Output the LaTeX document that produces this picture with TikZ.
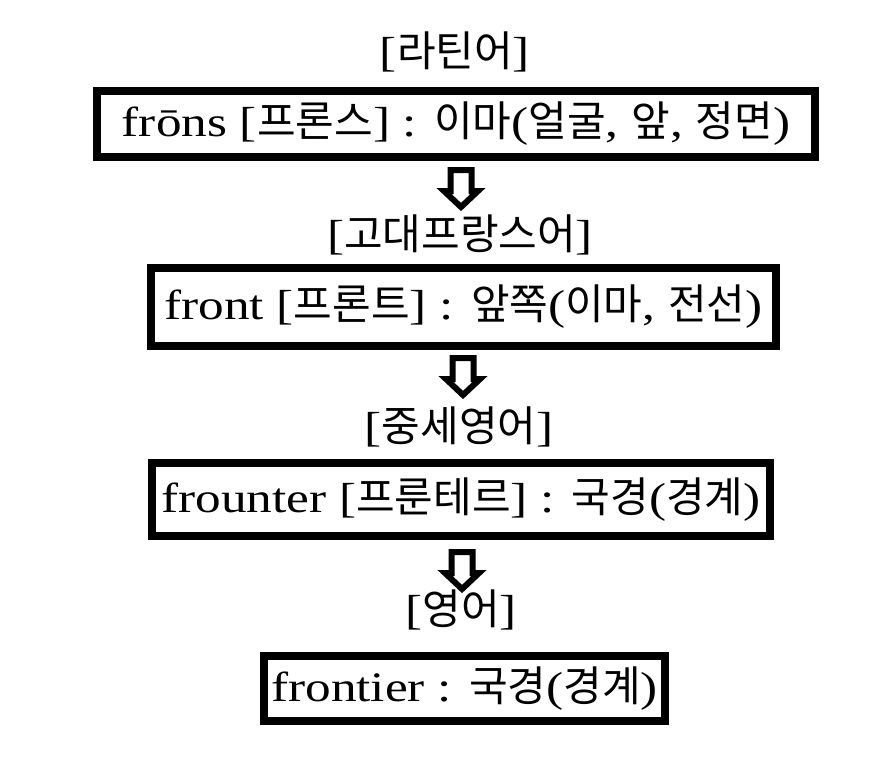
\documentclass[tikz,border=0pt]{standalone}
\usepackage{fontspec}
\setmainfont{Liberation Serif}[FakeStretch=1.22]
\newfontfamily\krfont{Noto Sans CJK KR}
\newcommand{\K}[1]{{\krfont\fontsize{42pt}{48pt}\selectfont #1}}
\newcommand{\bigtext}{\fontsize{42pt}{48pt}\selectfont}
\begin{document}
\begin{tikzpicture}[x=1pt,y=-1pt]
\tikzset{
  wordbox/.style={draw=black, line width=8pt, inner sep=0pt, fill=white, font=\bigtext},
  langlabel/.style={inner sep=0pt, anchor=base, font=\bigtext},
  blockarrow/.style={draw=black, line width=6pt, fill=white, line join=miter, miter limit=10}
}
\fill[white] (0,0) rectangle (896,774);
\useasboundingbox (0,0) rectangle (896,774);

% language labels
\node[langlabel] (l1) at (455,66) {[\K{라틴어}]};
\node[langlabel] (l2) at (460,249) {[\K{고대프랑스어}]};
\node[langlabel] (l3) at (459,441) {[\K{중세영어}]};
\node[langlabel] (l4) at (461,624) {[\K{영어}]};

% word boxes
\node[wordbox, minimum width=718pt, minimum height=66pt] (b1) at (456,124)
  {frōns [\K{프론스}] : \K{이마}(\K{얼굴}, \K{앞}, \K{정면})};
\node[wordbox, minimum width=625pt, minimum height=78pt] (b2) at (463.5,307)
  {front [\K{프론트}] : \K{앞쪽}(\K{이마}, \K{전선})};
\node[wordbox, minimum width=618pt, minimum height=73pt] (b3) at (461,499.5)
  {frounter [\K{프룬테르}] : \K{국경}(\K{경계})};
\node[wordbox, minimum width=401pt, minimum height=65pt] (b4) at (464.5,688.5)
  {frontier : \K{국경}(\K{경계})};

% block arrows
\coordinate (a1) at (461,167);
\coordinate (a2) at (463,355);
\coordinate (a3) at (462,549);
\foreach \a in {a1,a2,a3}{
  \draw[blockarrow] (\a) ++(-10.5,3) -- ++(21,0) -- ++(0,21) -- ++(6.5,0)
    -- ++(-17,16) -- ++(-17,-16) -- ++(6.5,0) -- cycle;
}
\end{tikzpicture}
\end{document}
